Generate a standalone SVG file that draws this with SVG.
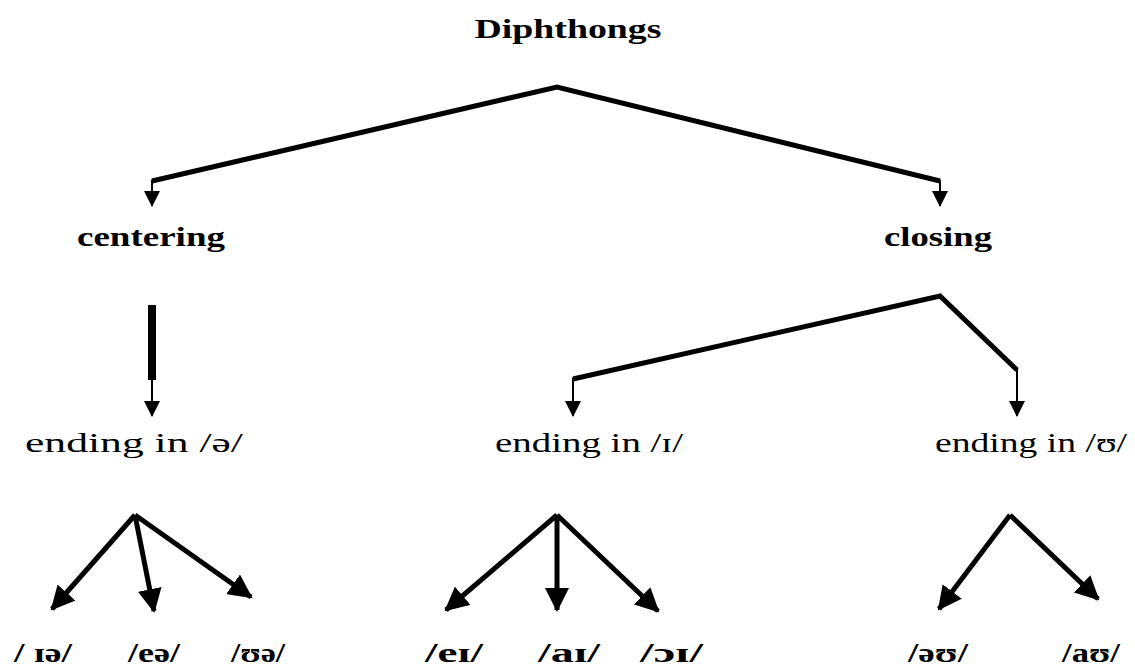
<svg xmlns="http://www.w3.org/2000/svg" width="1135" height="670" viewBox="0 0 1135 670">
<style>
.b{font-family:"Liberation Serif","Times New Roman",serif;font-weight:bold;font-size:27px;fill:#000}
.r{font-family:"Liberation Serif","Times New Roman",serif;font-size:27px;fill:#000}
.thick{fill:none;stroke:#000;stroke-width:5;stroke-linejoin:miter}
.thin{fill:none;stroke:#000;stroke-width:2}
.fan{fill:none;stroke:#000;stroke-width:5}
</style>
<defs>
<marker id="sa" markerUnits="userSpaceOnUse" markerWidth="16" markerHeight="16" viewBox="0 0 16 16" refX="15" refY="8" orient="auto">
<path d="M0,0 L16,8 L0,16 Z" fill="#000"/>
</marker>
<marker id="la" markerUnits="userSpaceOnUse" markerWidth="24" markerHeight="24" viewBox="0 0 24 24" refX="22" refY="12" orient="auto">
<path d="M0,0 L24,12 L0,24 Z" fill="#000"/>
</marker>
</defs>
<g id="n-diphthongs"><text class="b" x="568" y="38" text-anchor="middle" textLength="187" lengthAdjust="spacingAndGlyphs">Diphthongs</text></g>
<g id="n-centering"><text class="b" x="77" y="246" textLength="148" lengthAdjust="spacingAndGlyphs">centering</text></g>
<g id="n-closing"><text class="b" x="884" y="246" textLength="108" lengthAdjust="spacingAndGlyphs">closing</text></g>
<g id="n-end-schwa"><text class="r" x="25" y="452" textLength="218" lengthAdjust="spacingAndGlyphs">ending in /ə/</text></g>
<g id="n-end-i"><text class="r" x="495" y="452" textLength="188" lengthAdjust="spacingAndGlyphs">ending in /ɪ/</text></g>
<g id="n-end-u"><text class="r" x="935" y="452" textLength="192" lengthAdjust="spacingAndGlyphs">ending in /ʊ/</text></g>
<g id="n-ie"><text class="b" x="14" y="662" textLength="58" lengthAdjust="spacingAndGlyphs">/ ɪə/</text></g>
<g id="n-ee"><text class="b" x="128" y="662" textLength="52" lengthAdjust="spacingAndGlyphs">/eə/</text></g>
<g id="n-ue"><text class="b" x="231" y="662" textLength="54" lengthAdjust="spacingAndGlyphs">/ʊə/</text></g>
<g id="n-ei"><text class="b" x="425" y="662" textLength="58" lengthAdjust="spacingAndGlyphs">/eɪ/</text></g>
<g id="n-ai"><text class="b" x="538" y="662" textLength="62" lengthAdjust="spacingAndGlyphs">/aɪ/</text></g>
<g id="n-oi"><text class="b" x="640" y="662" textLength="63" lengthAdjust="spacingAndGlyphs">/ɔɪ/</text></g>
<g id="n-eu"><text class="b" x="908" y="662" textLength="60" lengthAdjust="spacingAndGlyphs">/əʊ/</text></g>
<g id="n-au"><text class="b" x="1062" y="662" textLength="58" lengthAdjust="spacingAndGlyphs">/aʊ/</text></g>
<g id="connectors">
<polyline class="thick" points="152,181 557,87 940,181"/>
<polyline class="thin" points="152,180 152,206" marker-end="url(#sa)"/>
<polyline class="thin" points="940,180 940,206" marker-end="url(#sa)"/>
<line x1="152" y1="305" x2="152" y2="380" stroke="#000" stroke-width="8"/>
<polyline class="thin" points="152,378 152,416" marker-end="url(#sa)"/>
<polyline class="thick" points="573,379 940,296 1017,370"/>
<polyline class="thin" points="573,378 573,416" marker-end="url(#sa)"/>
<polyline class="thin" points="1017,369 1017,416" marker-end="url(#sa)"/>
<line class="fan" x1="135" y1="515" x2="52" y2="609" marker-end="url(#la)"/>
<line class="fan" x1="135" y1="515" x2="154" y2="611" marker-end="url(#la)"/>
<line class="fan" x1="135" y1="515" x2="251" y2="597" marker-end="url(#la)"/>
<line class="fan" x1="557" y1="515" x2="446" y2="610" marker-end="url(#la)"/>
<line class="fan" x1="557" y1="515" x2="557" y2="610" marker-end="url(#la)"/>
<line class="fan" x1="557" y1="515" x2="658" y2="611" marker-end="url(#la)"/>
<line class="fan" x1="1010" y1="515" x2="939" y2="609" marker-end="url(#la)"/>
<line class="fan" x1="1010" y1="515" x2="1098" y2="599" marker-end="url(#la)"/>
</g>
</svg>
